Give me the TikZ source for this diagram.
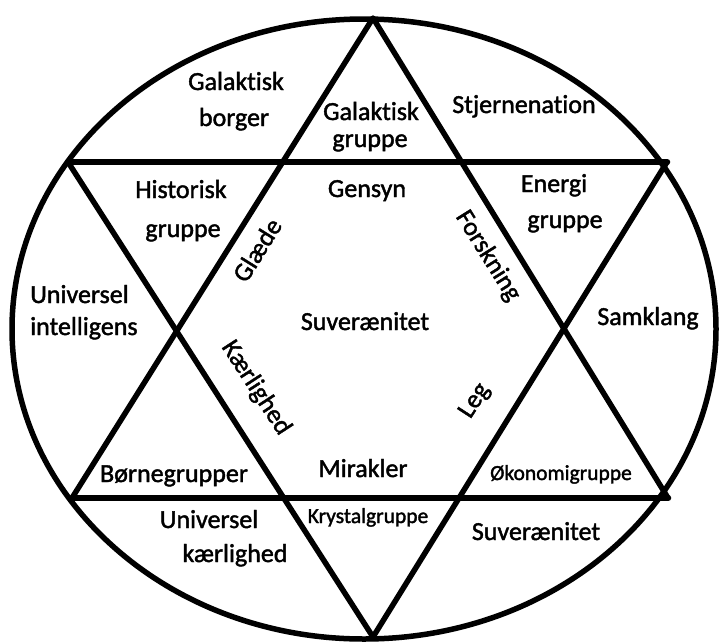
\documentclass[tikz,border=0pt]{standalone}
\usepackage{fontspec}
\setmainfont{Carlito}[Ligatures=NoCommon,RawFeature={embolden=1.6}]
\begin{document}
\begin{tikzpicture}[x=1pt,y=-1pt,
  line/.style={line width=5.5pt,line join=round,line cap=round},
  hline/.style={line width=6.5pt,line cap=round},
  lbl/.style={anchor=base,inner sep=0pt,text=black,font=\fontsize{26}{30}\selectfont},
  lbll/.style={lbl,anchor=base west},
  rot/.style={anchor=center,inner sep=0pt,text=black,font=\fontsize{26}{30}\selectfont},
  small/.style={anchor=base,inner sep=0pt,text=black,font=\fontsize{21.5}{26}\selectfont}]
\useasboundingbox (0,0) rectangle (720,643);
\fill[white] (0,0) rectangle (720,643);
% vertices
\coordinate (T) at (373,18);
\coordinate (B) at (373,637);
\coordinate (UL) at (68,162);
\coordinate (UR) at (667,162);
\coordinate (LL) at (72,498);
\coordinate (LR) at (668,498);
\coordinate (C) at (364,329);
% ellipse
\draw[line] (C) ellipse [x radius=352, y radius=310];
% up triangle
\draw[line] (T) -- (LL) -- (LR) -- cycle;
% down triangle
\draw[line] (UL) -- (UR) -- (B) -- cycle;
% thicker horizontals
\draw[hline] (UL) -- (UR);
\draw[hline] (LL) -- (LR);
% labels
\node[lbl] (gb1) at (236,90) {Galaktisk};
\node[lbl] (gb2) at (234,126) {borger};
\node[lbl] (gg1) at (371,120) {Galaktisk};
\node[lbl] (gg2) at (370,147) {gruppe};
\node[lbl] (sn) at (524,113) {Stjernenation};
\node[lbl] (hg1) at (181,198) {Historisk};
\node[lbl] (hg2) at (183,237) {gruppe};
\node[lbl] (gs) at (367,197) {Gensyn};
\node[lbl] (eg1) at (554,192) {Energi};
\node[lbl] (eg2) at (565,228) {gruppe};
\node[rot,rotate=58] (gl) at (257,250) {Glæde};
\node[rot,rotate=-58] (fo) at (488,256) {Forskning};
\node[lbll] (ui1) at (30,303) {Universel};
\node[lbll] (ui2) at (30,335) {intelligens};
\node[lbl] (su) at (365,330) {Suverænitet};
\node[lbl] (sk) at (648,325) {Samklang};
\node[rot,rotate=-57] (kh) at (256,388) {Kærlighed};
\node[rot,rotate=57] (lg) at (475,401) {Leg};
\node[lbl] (bg) at (174,482) {Børnegrupper};
\node[lbl] (mi) at (363,477) {Mirakler};
\node[small] (og) at (561,480) {Økonomigruppe};
\node[lbl] (uk1) at (209,528) {Universel};
\node[lbl] (uk2) at (235,562) {kærlighed};
\node[small] (kg) at (368,523) {Krystalgruppe};
\node[lbl] (s2) at (536,540) {Suverænitet};
\end{tikzpicture}
\end{document}
